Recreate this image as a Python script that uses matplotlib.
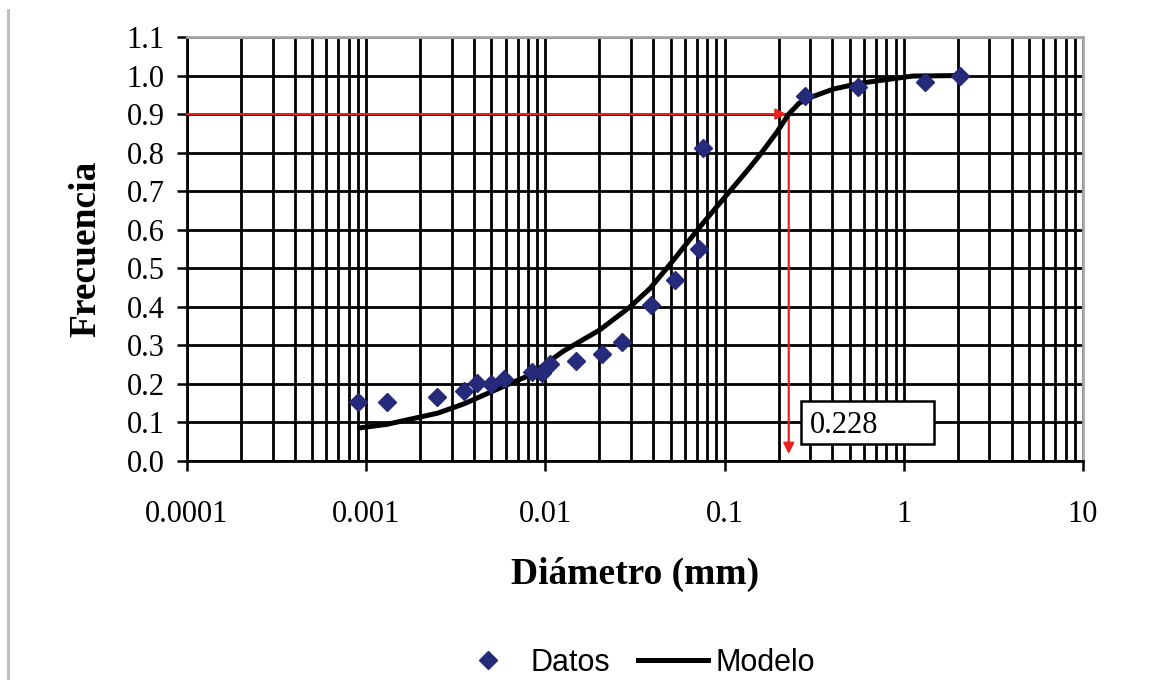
import matplotlib
matplotlib.use("Agg")
import matplotlib.pyplot as plt
from matplotlib.lines import Line2D
from matplotlib.patches import Rectangle
from matplotlib.ticker import FixedLocator, LogLocator, NullFormatter

# Measured grain-size distribution
diam_datos = [0.00090, 0.00131, 0.00249, 0.00352, 0.00415, 0.00499, 0.00585,
              0.00845, 0.0096, 0.0106, 0.0148, 0.0208, 0.0266, 0.0387,
              0.0527, 0.0716, 0.076, 0.282, 0.557, 1.31, 2.06]
frec_datos = [0.154, 0.154, 0.167, 0.182, 0.203, 0.200, 0.214,
              0.230, 0.228, 0.251, 0.260, 0.278, 0.310, 0.406,
              0.469, 0.551, 0.811, 0.948, 0.969, 0.982, 1.000]

# Fitted model curve
diam_modelo = [0.00089, 0.0013, 0.0025, 0.0035, 0.0058, 0.0082, 0.0126,
               0.0201, 0.0297, 0.0384, 0.0518, 0.0641, 0.076, 0.107, 0.133,
               0.158, 0.195, 0.228, 0.26, 0.30, 0.405, 0.57, 1.12, 2.06]
frec_modelo = [0.085, 0.095, 0.124, 0.148, 0.193, 0.223, 0.285,
               0.340, 0.400, 0.448, 0.521, 0.575, 0.618, 0.700, 0.752,
               0.795, 0.852, 0.900, 0.928, 0.943, 0.965, 0.980, 0.9987, 1.000]

# D90 read-out
frec_90 = 0.9
d90 = 0.228

x_ticks = [0.0001, 0.001, 0.01, 0.1, 1, 10]
x_ticklabels = ["0.0001", "0.001", "0.01", "0.1", "1", "10"]
y_ticks = [0.0, 0.1, 0.2, 0.3, 0.4, 0.5, 0.6, 0.7, 0.8, 0.9, 1.0, 1.1]
y_ticklabels = ["%.1f" % v for v in y_ticks]

serif = "Liberation Serif"
sans = "Liberation Sans"
navy = "#262a7a"
red = "#e8221e"

fig = plt.figure(figsize=(11.67, 6.80), dpi=100)
ax = fig.add_axes([187 / 1167, 1 - 461 / 680, (1083 - 187) / 1167, (461 - 37) / 680])

ax.set_xscale("log")
ax.set_xlim(1e-4, 10)
ax.set_ylim(0, 1.1)

ax.xaxis.set_major_locator(FixedLocator(x_ticks))
ax.set_xticklabels(x_ticklabels)
ax.xaxis.set_minor_locator(LogLocator(base=10, subs=range(2, 10), numticks=50))
ax.xaxis.set_minor_formatter(NullFormatter())
ax.set_yticks(y_ticks)
ax.set_yticklabels(y_ticklabels)

for lab in ax.get_xticklabels() + ax.get_yticklabels():
    lab.set_fontfamily(serif)
    lab.set_fontsize(22)

ax.tick_params(axis="both", which="major", direction="out", length=7, width=1.8, color="black")
ax.tick_params(axis="x", which="major", pad=21)
ax.tick_params(axis="y", which="major", pad=9)
ax.tick_params(axis="x", which="minor", length=0)

ax.grid(True, which="major", axis="both", color="black", linewidth=2.0, zorder=0)
ax.grid(True, which="minor", axis="x", color="black", linewidth=2.0, zorder=0)
ax.set_axisbelow(True)

for side in ("left", "bottom"):
    ax.spines[side].set_color("black")
    ax.spines[side].set_linewidth(2.0)
for side in ("top", "right"):
    ax.spines[side].set_color("#a8a8a8")
    ax.spines[side].set_linewidth(2.0)

ax.set_xlabel("Diámetro (mm)", fontfamily=serif, fontsize=27, fontweight="bold", labelpad=20)
ax.set_ylabel("Frecuencia", fontfamily=serif, fontsize=27, fontweight="bold", labelpad=17)

# D90 guide arrows
ax.annotate("", xy=(0.222, frec_90), xytext=(1e-4, frec_90),
            arrowprops=dict(arrowstyle="-|>", color=red, lw=1.6,
                            mutation_scale=16, shrinkA=0, shrinkB=0), zorder=3)
ax.annotate("", xy=(d90, 0.018), xytext=(d90, frec_90 - 0.005),
            arrowprops=dict(arrowstyle="-|>", color=red, lw=1.6,
                            mutation_scale=16, shrinkA=0, shrinkB=0), zorder=3)

# Value box
ax.add_patch(Rectangle((0.267, 0.044), 1.47 - 0.267, 0.156 - 0.044,
                       facecolor="white", edgecolor="black", linewidth=1.8, zorder=4))
ax.text(0.30, 0.093, "%.3f" % d90, fontfamily=serif, fontsize=22,
        ha="left", va="center", zorder=5)

ax.plot(diam_modelo, frec_modelo, color="black", linewidth=3.6,
        solid_capstyle="butt", solid_joinstyle="round", zorder=5, label="Modelo")
ax.plot(diam_datos, frec_datos, linestyle="none", marker="D", markersize=9,
        color=navy, markeredgecolor=navy, zorder=6, label="Datos")

handles = [
    Line2D([], [], linestyle="none", marker="D", markersize=9, color=navy),
    Line2D([], [], color="black", linewidth=3.6),
]
fig.legend(handles, ["Datos", "Modelo"], loc="center", ncol=2,
           bbox_to_anchor=(634 / 1167, 1 - 663 / 680), frameon=False,
           prop={"family": sans, "size": 22}, handlelength=2.3,
           handletextpad=0.25, columnspacing=0.9)

# Page edge on the left
fig.add_artist(Line2D([7.5 / 1167, 7.5 / 1167], [0, 1 - 10 / 680],
                      transform=fig.transFigure, color="#bebebe", linewidth=2.2))

fig.savefig("out.png", dpi=100)
